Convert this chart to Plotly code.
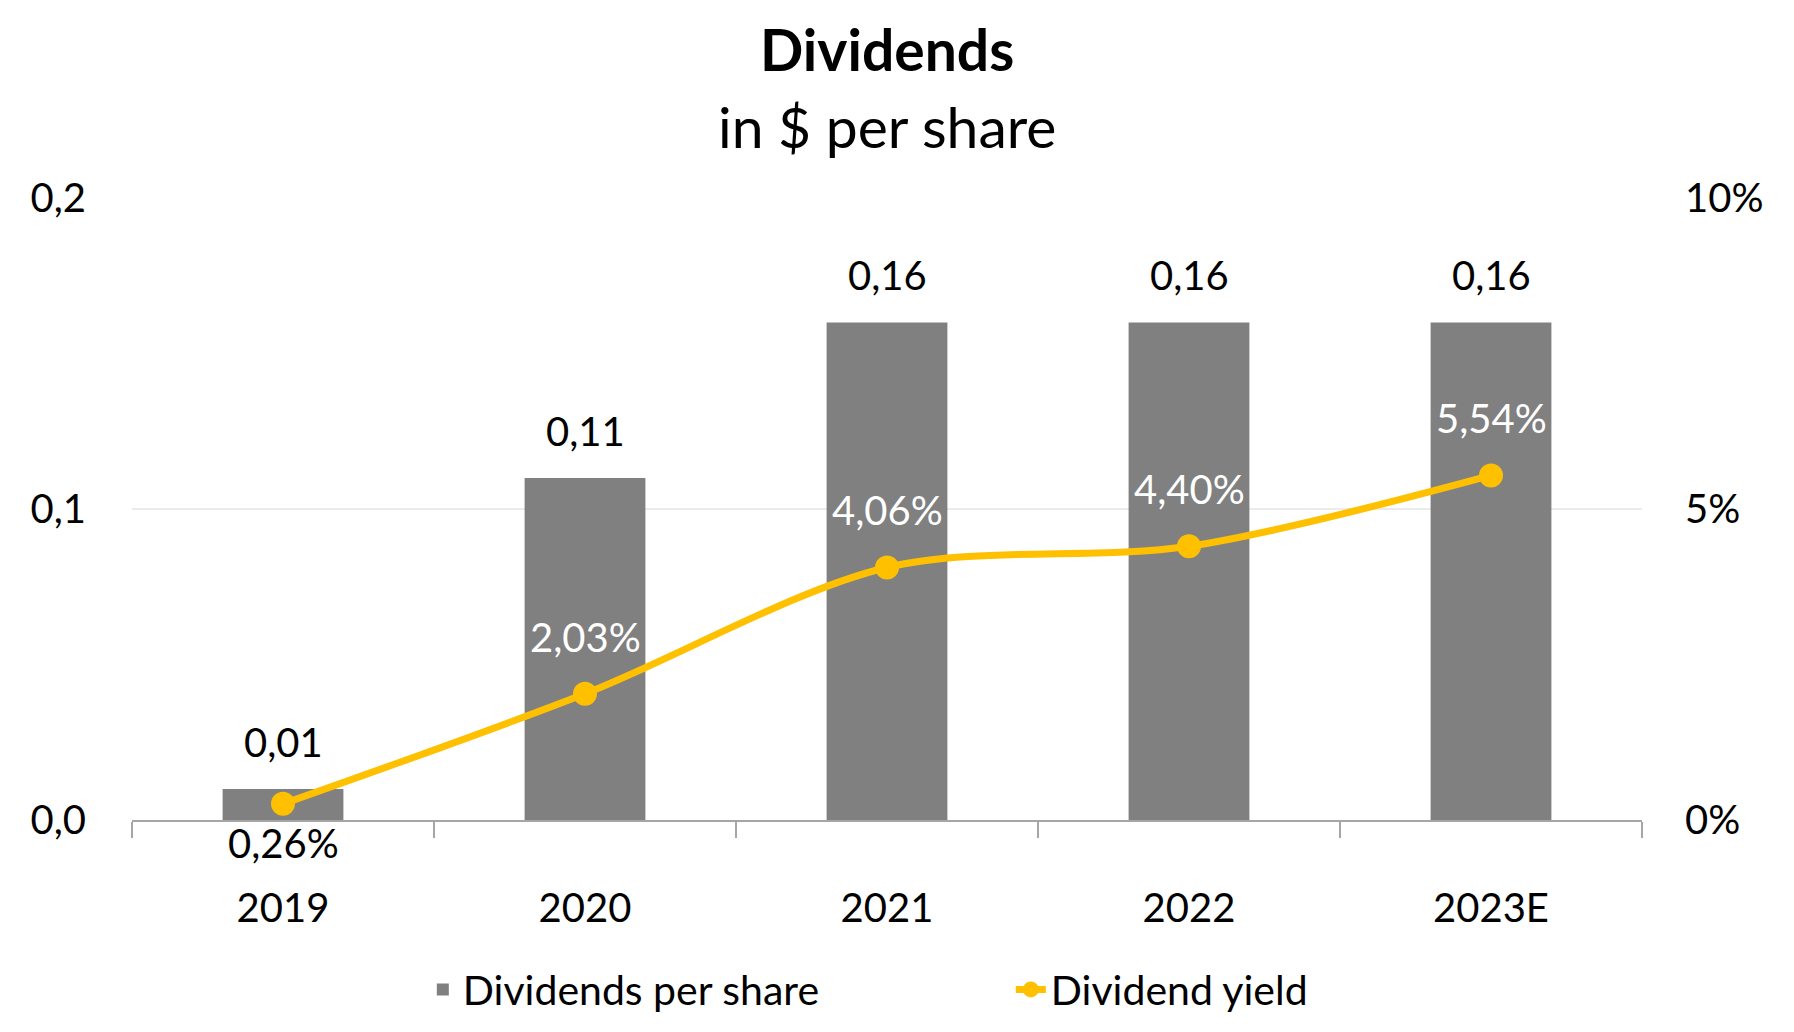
import plotly.graph_objects as go

years = ["2019", "2020", "2021", "2022", "2023E"]
dps = [0.01, 0.11, 0.16, 0.16, 0.16]
yield_pct = [0.0026, 0.0203, 0.0406, 0.0440, 0.0554]

FONT = "Lato"
BAR_COLOR = "#808080"
LINE_COLOR = "#FFC000"
FS = 40

fig = go.Figure()
fig.add_trace(go.Bar(
    x=years, y=dps, name="Dividends per share",
    marker=dict(color=BAR_COLOR, line=dict(width=0)),
    width=0.4, yaxis="y",
))
fig.add_trace(go.Scatter(
    x=years, y=yield_pct, name="Dividend yield",
    mode="lines+markers",
    line=dict(color=LINE_COLOR, width=7, shape="spline", smoothing=0.9),
    marker=dict(color=LINE_COLOR, size=24),
    yaxis="y2",
))

annotations = []
# category axis: annotation x given as category index
for i, v in enumerate(dps):
    annotations.append(dict(x=i, y=v, xref="x", yref="y", text=f"{v:.2f}".replace(".", ","),
                            showarrow=False, yshift=47, font=dict(family=FONT, size=FS, color="black")))
for i, v in enumerate(yield_pct):
    below = i == 0
    annotations.append(dict(x=i, y=v, xref="x", yref="y2", text=f"{v*100:.2f}%".replace(".", ","),
                            showarrow=False, yshift=-39 if below else 57,
                            font=dict(family=FONT, size=FS, color="black" if below else "white")))

annotations.append(dict(x=0.5, y=1.24, xref="paper", yref="paper", text="<b>Dividends</b>",
                        showarrow=False, yanchor="middle", font=dict(family=FONT, size=57, color="black")))
annotations.append(dict(x=0.5, y=1.116, xref="paper", yref="paper", text="in $ per share",
                        showarrow=False, yanchor="middle", font=dict(family=FONT, size=57, color="black")))

fig.update_layout(
    width=1794, height=1032,
    paper_bgcolor="white", plot_bgcolor="white",
    separators=",.",
    font=dict(family=FONT, size=FS, color="black"),
    margin=dict(l=124, r=160, t=190, b=220),
    bargap=0.6,
    showlegend=True,
    legend=dict(orientation="h", x=0.582, xanchor="center", y=-0.273, yanchor="middle",
                font=dict(family=FONT, size=41, color="black"), entrywidth=543,
                traceorder="normal"),
    xaxis=dict(type="category", range=[-0.5, 4.5], showgrid=False, showline=True,
               linecolor="#A6A6A6", linewidth=2,
               ticks="outside", tickson="boundaries", ticklen=16, tickcolor="#A6A6A6",
               tickwidth=2, ticklabelstandoff=52, tickfont=dict(family=FONT, size=FS)),
    yaxis=dict(range=[0, 0.2], tickvals=[0, 0.1, 0.2], tickformat=".1f",
               showgrid=True, gridcolor="#EBEBEB", gridwidth=2, zeroline=False,
               showline=False, ticks="", ticklabelstandoff=45,
               tickfont=dict(family=FONT, size=FS)),
    yaxis2=dict(range=[0, 0.1], tickvals=[0, 0.05, 0.1], tickformat=".0%",
                overlaying="y", side="right", showgrid=False, zeroline=False,
                showline=False, ticks="", ticklabelstandoff=42,
                tickfont=dict(family=FONT, size=FS)),
    annotations=annotations,
)

fig.write_html("out.html")
